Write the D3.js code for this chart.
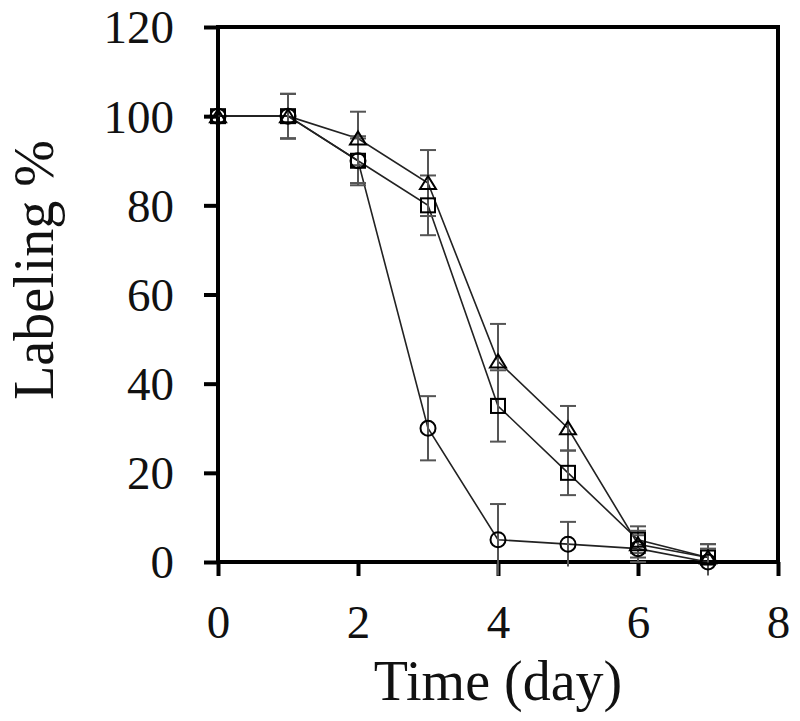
<!DOCTYPE html>
<html><head><meta charset="utf-8">
<script src="https://cdn.jsdelivr.net/npm/d3@7"></script>
<style>body{margin:0;background:#fff}svg{display:block}</style>
</head><body>
<svg id="c" width="800" height="721"></svg>
<script>
const days = [0,1,2,3,4,5,6,7];
const circleVals = [100,100,90,30,5,4,3,0];
const circleErr  = [0,5,5,7.2,8,5,3,3];
const squareVals = [100,100,90,80,35,20,5,1];
const squareErr  = [0,5,5.5,6.7,8,5,3,3];
const triVals    = [100,100,95,85,45,30,4,1];
const triErr     = [0,5,6,7.4,8.4,5,3,3];
const xTicks = [0,2,4,6,8];
const yTicks = [0,20,40,60,80,100,120];

const svg = d3.select("#c");
const x = d3.scaleLinear().domain([0,8]).range([218,778]);
const y = d3.scaleLinear().domain([0,120]).range([562,27]);
const font = "'Liberation Serif','Times New Roman',serif";

const series = [
  {vals: circleVals, err: circleErr, shape: "circle"},
  {vals: squareVals, err: squareErr, shape: "square"},
  {vals: triVals, err: triErr, shape: "triangle"}
];

// axes
const xAxis = svg.append("g").attr("transform","translate(0,562)")
  .call(d3.axisBottom(x).tickValues(xTicks).tickSize(14).tickPadding(14));
const yAxis = svg.append("g").attr("transform","translate(218,0)")
  .call(d3.axisLeft(y).tickValues(yTicks).tickSize(14).tickPadding(30));
[xAxis,yAxis].forEach(a=>{
  a.select(".domain").remove();
  a.selectAll(".tick line").attr("stroke","#000").attr("stroke-width",4);
  a.selectAll(".tick text").attr("font-family",font).attr("font-size",47).attr("fill","#111");
});
xAxis.selectAll(".tick text").attr("dy",null).attr("y",76);
yAxis.selectAll(".tick text").attr("x",-44).attr("dy","0.34em");

// frame
svg.append("rect").attr("x",x(0)).attr("y",y(120))
  .attr("width",x(8)-x(0)).attr("height",y(0)-y(120))
  .attr("fill","none").attr("stroke","#000").attr("stroke-width",4);

// lines
const line = d3.line().x((d,i)=>x(days[i])).y(d=>y(d));
series.forEach(s=>{
  svg.append("path").attr("d",line(s.vals)).attr("fill","none")
    .attr("stroke","#222").attr("stroke-width",1.6);
});

// error bars
series.forEach(s=>{
  const g = svg.append("g").attr("stroke","#555").attr("stroke-width",2);
  s.vals.forEach((v,i)=>{
    const e = s.err[i]; if(!e) return;
    const cx = x(days[i]);
    g.append("line").attr("x1",cx).attr("x2",cx).attr("y1",y(v-e)).attr("y2",y(v+e));
    [v-e,v+e].forEach(t=>{
      if (t < 0) return;
      g.append("line").attr("x1",cx-8).attr("x2",cx+8).attr("y1",y(t)).attr("y2",y(t));
    });
  });
});

// markers
series.forEach(s=>{
  const g = svg.append("g").attr("fill","none").attr("stroke","#000").attr("stroke-width",2);
  s.vals.forEach((v,i)=>{
    const cx = x(days[i]), cy = y(v);
    if (s.shape==="circle") g.append("circle").attr("cx",cx).attr("cy",cy).attr("r",7.5);
    else if (s.shape==="square") g.append("rect").attr("x",cx-7).attr("y",cy-7).attr("width",14).attr("height",14);
    else g.append("path").attr("d",`M${cx},${cy-7}L${cx+8},${cy+6}L${cx-8},${cy+6}Z`);
  });
});

// titles
svg.append("text").attr("x",498).attr("y",700).attr("text-anchor","middle")
  .attr("font-family",font).attr("font-size",56).attr("fill","#111").text("Time (day)");
svg.append("text").attr("transform","translate(53,270) rotate(-90)").attr("text-anchor","middle")
  .attr("font-family",font).attr("font-size",56).attr("fill","#111").text("Labeling %");
</script>
</body></html>
